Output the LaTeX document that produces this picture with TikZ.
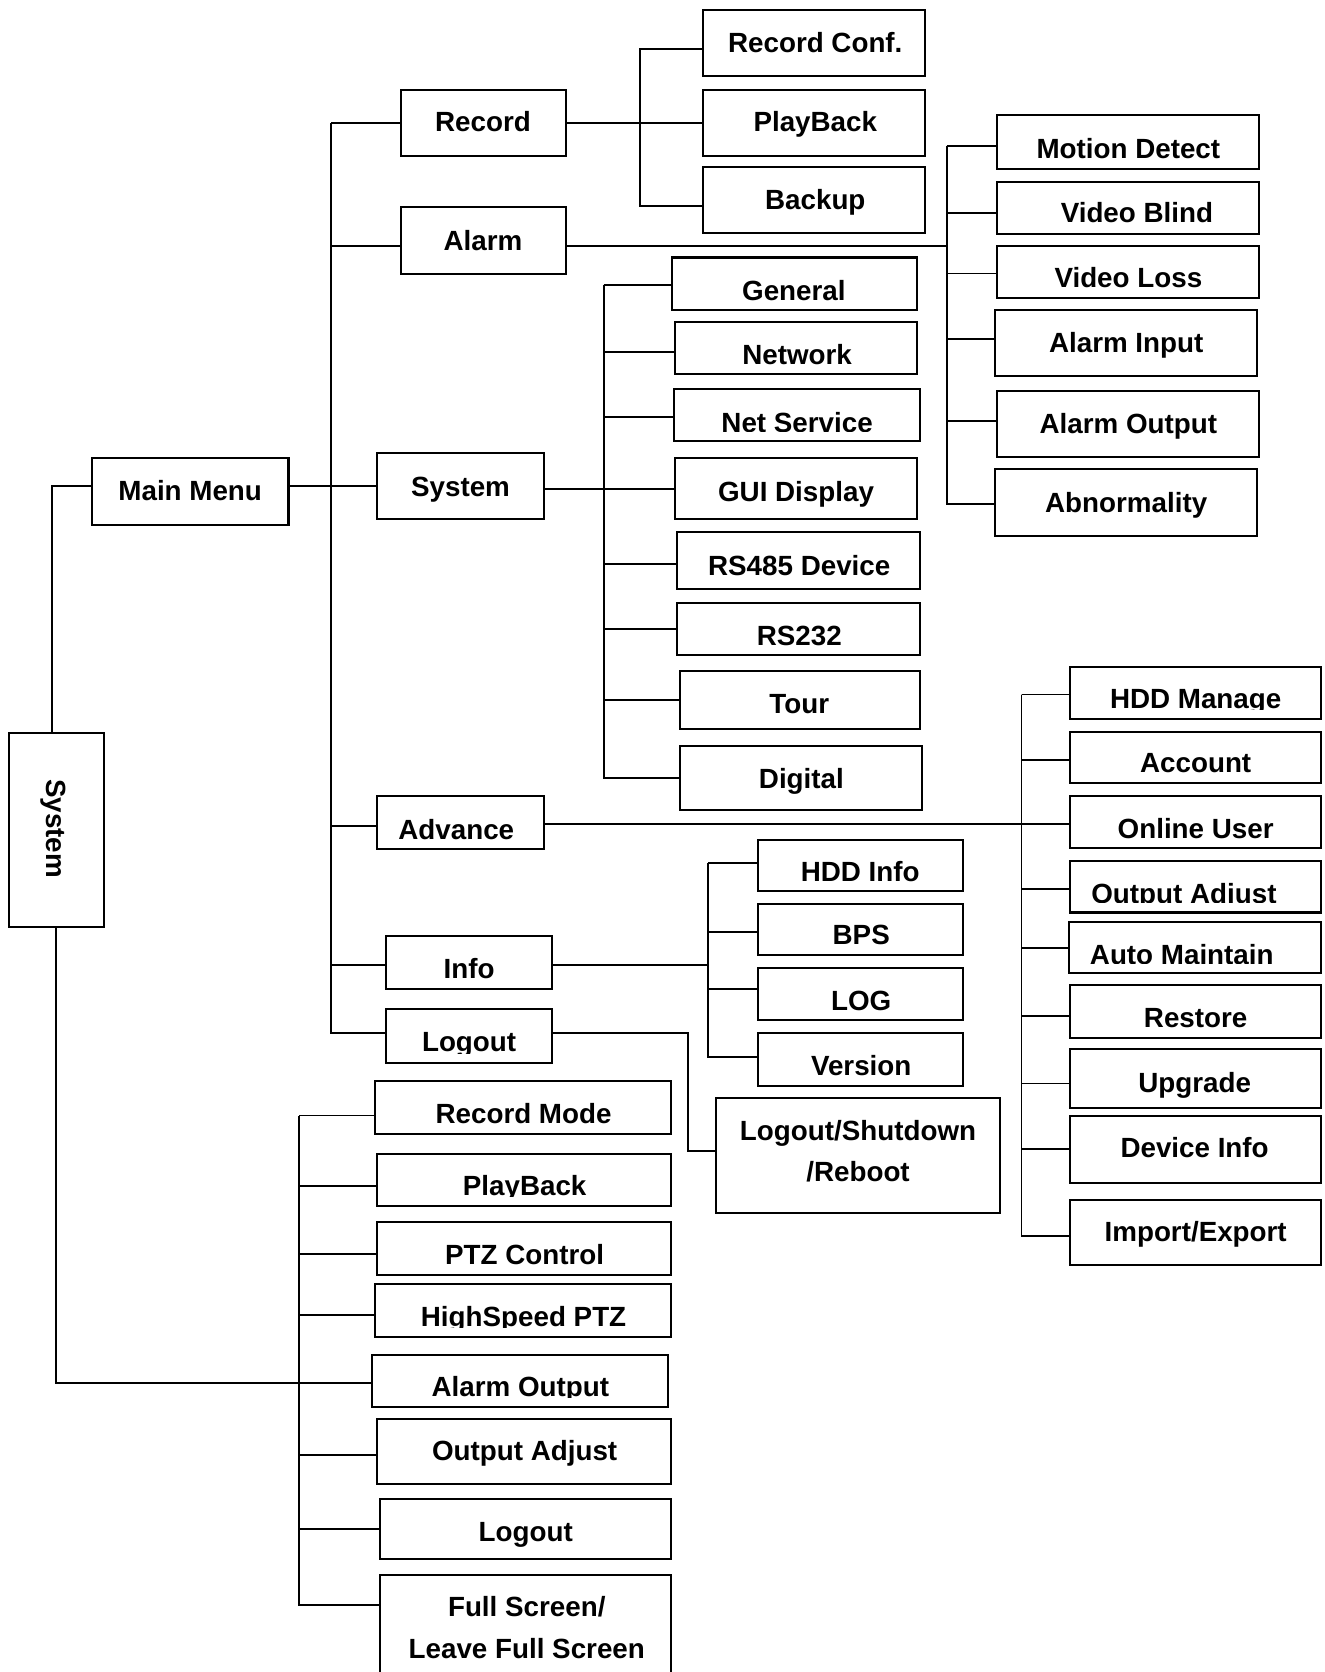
\documentclass[tikz,border=0pt]{standalone}
\usepackage{fontspec}
\setmainfont{Liberation Sans}
\usetikzlibrary{fit}
\tikzset{
  boxst/.style={draw=black, line width=1.9pt, inner sep=0pt, outer sep=0pt},
  lbl/.style={font=\fontsize{26}{31}\selectfont\bfseries, inner sep=0pt, anchor=base},
  conn/.style={draw=black, line width=1.8pt},
}
% name, x1, y1, x2, y2, text x, text cap-centre y, text
\newcommand\bx[8]{%
  \node[boxst, fit={(#2,#3)(#4,#5)}] (#1) {};
  \begin{scope}
    \clip (#2,#3) rectangle (#4,{#5-9});
    \node[lbl] (#1-t) at (#6,{#7+9.3}) {#8};
  \end{scope}}
\begin{document}
\begin{tikzpicture}[x=1pt,y=-1pt]
\useasboundingbox (0,0) rectangle (1240,1564.8);
\fill[white] (0,0) rectangle (1240,1564.8);
\clip (0,0) rectangle (1240,1564.8);

% left column
\node[boxst, fit={(8,686)(97,868)}] (sv) {};
\node[lbl, rotate=-90] (sv-t) at (43.7,775.5) {System};
\bx{mm}{86}{429}{270}{491}{178}{459}{Main Menu}

% main menu children
\bx{rec}{375}{84}{530}{146}{452}{114}{Record}
\bx{alm}{375}{194}{530}{256}{452}{225}{Alarm}
\bx{sys}{353}{424}{509}{486}{431}{455}{System}
\bx{adv}{353}{745}{509}{795}{427}{776}{Advance}
\bx{info}{361}{876}{517}{926}{439}{906}{Info}
\bx{lgo}{361}{944}{517}{995}{439}{975}{Logout}

% record children
\bx{rc}{658}{9}{866}{71}{763}{40}{Record Conf.}
\bx{pb}{658}{84}{866}{146}{763}{114}{PlayBack}
\bx{bk}{658}{156}{866}{218}{763}{187}{Backup}

% alarm children
\bx{md}{933}{108}{1178}{158}{1056}{139}{Motion Detect}
\bx{vb}{933}{170}{1178}{219}{1064}{199}{Video Blind}
\bx{vl}{933}{230}{1178}{279}{1056}{260}{Video Loss}
\bx{ai}{931}{290}{1176}{352}{1054}{321}{Alarm Input}
\bx{ao}{933}{366}{1178}{428}{1056}{396}{Alarm Output}
\bx{abn}{931}{439}{1176}{502}{1054}{470}{Abnormality}

% system children
\bx{gn}{629}{241}{858}{290}{743}{272}{General}
\bx{nw}{632}{301}{858}{350}{746}{332}{Network}
\bx{ns}{631}{364}{861}{413}{746}{395}{Net Service}
\bx{gui}{632}{429}{858}{486}{745}{460}{GUI Display}
\bx{rs4}{634}{498}{861}{551}{748}{529}{RS485 Device}
\bx{rs2}{634}{564}{861}{613}{748}{595}{RS232}
\bx{tour}{636}{628}{861}{682}{748}{658}{Tour}
\bx{dig}{636}{698}{863}{758}{750}{729}{Digital}

% info children
\bx{hi}{709}{786}{901}{834}{805}{816}{HDD Info}
\bx{bps}{709}{846}{901}{894}{806}{875}{BPS}
\bx{log}{709}{906}{901}{955}{806}{936}{LOG}
\bx{ver}{709}{967}{901}{1016}{806}{997}{Version}

% logout child
\bx{lsr}{670}{1028}{936}{1135}{803}{1058}{Logout/Shutdown}
\node[lbl] (lsr-t2) at (803,1105.3) {/Reboot};

% advance children
\bx{hm}{1001}{624}{1236}{673}{1119}{654}{HDD Manage}
\bx{acc}{1001}{685}{1236}{733}{1119}{714}{Account}
\bx{ou}{1001}{745}{1236}{794}{1119}{775}{Online User}
\bx{oa}{1001}{806}{1236}{854}{1108}{836}{Output Adjust}
\bx{am}{1000}{863}{1236}{911}{1106}{893}{Auto Maintain}
\bx{rst}{1001}{922}{1236}{971}{1119}{952}{Restore}
\bx{upg}{1001}{982}{1236}{1037}{1118}{1013}{Upgrade}
\bx{dvi}{1001}{1044}{1236}{1107}{1118}{1074}{Device Info}
\bx{ie}{1001}{1123}{1236}{1184}{1119}{1153}{Import/Export}

% bottom group
\bx{rm}{351}{1012}{628}{1061}{490}{1042}{Record Mode}
\bx{pb2}{353}{1080}{628}{1129}{491}{1110}{PlayBack}
\bx{ptz}{353}{1144}{628}{1193}{491}{1174}{PTZ Control}
\bx{hs}{351}{1202}{628}{1251}{490}{1232}{HighSpeed PTZ}
\bx{ao2}{348}{1268}{625}{1317}{487}{1298}{Alarm Output}
\bx{oa2}{353}{1328}{628}{1389}{491}{1358}{Output Adjust}
\bx{lo2}{356}{1403}{628}{1459}{492}{1433}{Logout}
\bx{fs}{356}{1474}{628}{1600}{493}{1504}{Full Screen/}
\node[lbl] (fs-t2) at (493,1552.3) {Leave Full Screen};

% ---------- connectors ----------
% System (left) to Main Menu and bottom group
\draw[conn] ([yshift=5pt]mm.west) -| ([xshift=-3.5pt]sv.north);
\draw[conn] (sv.south) |- ([yshift=-1.5pt]ao2.west);

% Main Menu bus
\draw[conn] ([yshift=5pt]mm.east) -- (sys.west);
\coordinate (mbx) at (310,0);
\coordinate (mb) at (rec.west -| mbx);
\draw[conn] (mb) -- (rec.west);
\foreach \a/\s in {alm/-5, sys/0, adv/-3, info/-2, lgo/3}
  \draw[conn] (mb) |- ([yshift=\s pt]\a.west);

% Record bus
\draw[conn] (rec.east) -- (pb.west);
\coordinate (rbx) at (599,0);
\coordinate (rca) at ([yshift=-6pt]rc.west);
\coordinate (rb) at (rca -| rbx);
\draw[conn] (rca) -- (rb) |- ([yshift=-6pt]bk.west);

% Alarm bus
\coordinate (abx) at (886,0);
\coordinate (mda) at ([yshift=-4pt]md.west);
\coordinate (ab) at (mda -| abx);
\draw[conn] (ab) -- (mda);
\draw[conn] ([yshift=-5pt]alm.east) -| (ab);
\foreach \a/\s in {vb/-4.5, vl/-1.5, ai/4, ao/3, abn/-1.5}
  \draw[conn] (ab) |- ([yshift=\s pt]\a.west);

% System bus
\coordinate (sbx) at (565,0);
\coordinate (gna) at ([yshift=-1.5pt]gn.west);
\coordinate (sb) at (gna -| sbx);
\draw[conn] (sb) -- (gna);
\draw[conn] ([yshift=-3pt]sys.east) -| (sb);
\foreach \a/\s in {nw/-3.5, ns/-1.5, gui/-0.5, rs4/-3.5, rs2/0, tour/0, dig/0}
  \draw[conn] (sb) |- ([yshift=\s pt]\a.west);

% Advance bus
\coordinate (vbx) at (956,0);
\coordinate (hma) at ([yshift=-1.5pt]hm.west);
\coordinate (advb) at (hma -| vbx);
\draw[conn] (advb) -- (hma);
\draw[conn] ([yshift=-1pt]adv.east) -| (advb);
\foreach \a/\s in {acc/-2, ou/-1.5, oa/-2, am/0, rst/-4.5, upg/-4.5, dvi/0, ie/-3.5}
  \draw[conn] (advb) |- ([yshift=\s pt]\a.west);

% Info bus
\coordinate (ibx) at (663,0);
\coordinate (hia) at ([yshift=2pt]hi.west);
\coordinate (ib) at (hia -| ibx);
\draw[conn] (ib) -- (hia);
\draw[conn] ([yshift=-2pt]info.east) -| (ib);
\foreach \a/\s in {bps/-2, log/4.5, ver/2.5}
  \draw[conn] (ib) |- ([yshift=\s pt]\a.west);

% Logout to Logout/Shutdown/Reboot
\coordinate (lbx) at (644,0);
\coordinate (lsra) at ([yshift=4.5pt]lsr.west);
\draw[conn] ([yshift=3pt]lgo.east) -| (lsra -| lbx) -- (lsra);

% bottom bus
\coordinate (bbx) at (280,0);
\coordinate (rma) at ([yshift=-7.5pt]rm.west);
\coordinate (bb) at (rma -| bbx);
\draw[conn] (bb) -- (rma);
\foreach \a/\s in {pb2/-5.5, ptz/-5.5, hs/-4.5, ao2/-1.5, oa2/-3.5, lo2/0}
  \draw[conn] (bb) |- ([yshift=\s pt]\a.west);
\draw[conn] (bb) |- ([yshift=-28pt]fs.north west);
\end{tikzpicture}
\end{document}
